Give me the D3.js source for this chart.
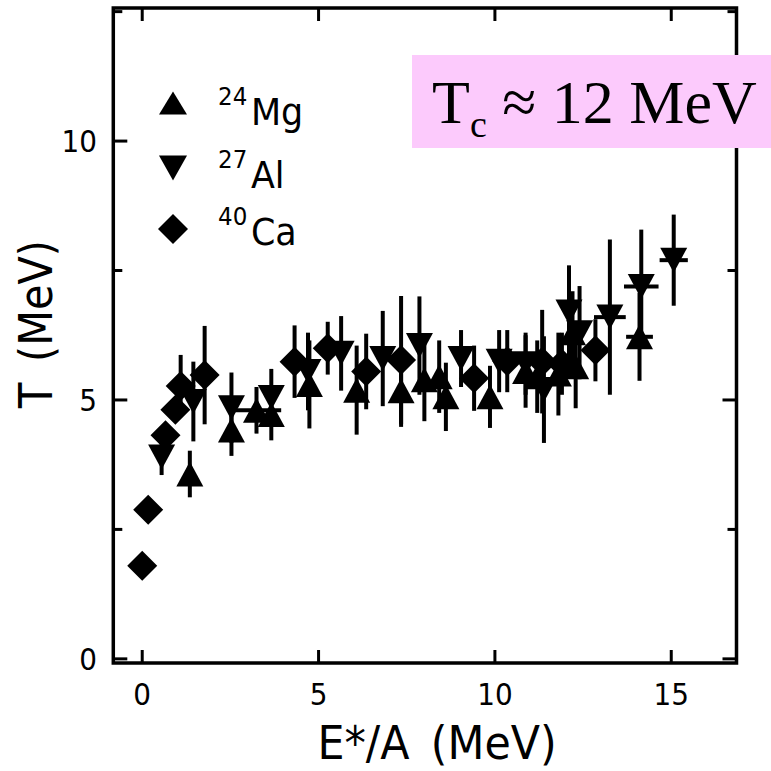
<!DOCTYPE html>
<html><head><meta charset="utf-8">
<script src="https://cdn.jsdelivr.net/npm/d3@7"></script>
<style>html,body{margin:0;padding:0;background:#fff;}svg{display:block;}</style>
</head><body>
<script>
// ---------- data ----------
const mgX   = [1.35, 2.53, 3.24, 3.66, 4.74, 6.08, 7.34, 8.0, 8.42, 8.61, 9.86, 10.87, 11.2, 11.8, 12.29, 12.2, 14.1];
const mgY   = [3.57, 4.42, 4.8, 4.72, 5.3, 5.19, 5.18, 5.39, 5.45, 5.06, 5.06, 5.55, 5.45, 5.5, 5.64, 6.3, 6.22];
const mgErr = [0.45, 0.5, 0.45, 0.5, 0.85, 0.86, 0.7, 0.8, 0.7, 0.66, 0.6, 0.7, 0.7, 0.8, 0.8, 0.8, 0.85];
const mgXErr= [0, 0, 0.7, 0, 0, 0, 0, 0, 0, 0, 0, 0, 0, 0, 0, 0, 0.38];

const alX   = [0.55, 1.45, 2.53, 3.66, 4.7, 5.64, 6.82, 7.86, 9.04, 10.12, 10.87, 11.39, 12.1, 12.4, 13.26, 14.15, 15.07];
const alY   = [3.9, 4.97, 4.85, 5.05, 5.55, 5.9, 5.8, 6.05, 5.8, 5.75, 5.7, 5.2, 6.7, 6.3, 6.6, 7.19, 7.7];
const alErr = [0.35, 0.77, 0.68, 0.55, 0.75, 0.72, 0.92, 0.95, 0.55, 0.6, 0.6, 1.03, 0.9, 0.9, 1.5, 1.1, 0.88];
const alXErr= [0, 0, 0, 0, 0, 0, 0, 0, 0, 0, 0, 0, 0, 0, 0.45, 0.49, 0.4];

const caX   = [0.0, 0.17, 0.66, 0.94, 1.09, 1.77, 4.32, 5.26, 6.35, 7.34, 9.41, 10.35, 11.34, 11.9, 12.85];
const caY   = [1.80, 2.88, 4.32, 4.81, 5.27, 5.48, 5.74, 6.0, 5.55, 5.77, 5.42, 5.75, 5.74, 5.7, 5.96];
const caErr = [0, 0, 0, 0, 0.6, 0.95, 0.7, 0.51, 0.73, 1.24, 0.63, 0.6, 1.0, 0.6, 0.6];

const xTicks = [0, 5, 10, 15];
const yTicks = [0, 2.5, 5, 7.5, 10, 12.5];
const yLabels = [0, 5, 10];
const legendNames = [["24","Mg"],["27","Al"],["40","Ca"]];

// ---------- layout ----------
const W = 771, H = 771;
const svg = d3.select("body").append("svg").attr("width", W).attr("height", H);
const x = d3.scaleLinear().domain([-0.82, 16.85]).range([113.3, 736.5]);
const y = d3.scaleLinear().domain([-0.08, 12.57]).range([663, 8]);

const SANS = "'DejaVu Sans', sans-serif";
function ctext(parent, tf, size, anchor, sx) {
  return parent.append("text")
    .attr("transform", `${tf} scale(${sx},1)`)
    .attr("text-anchor", anchor)
    .attr("font-family", SANS)
    .attr("font-size", size).attr("fill", "#000");
}

// marker paths
const upTri = (w,h) => `M0,${-h/2}L${w/2},${h/2}L${-w/2},${h/2}Z`;
const dnTri = (w,h) => `M0,${h/2}L${w/2},${-h/2}L${-w/2},${-h/2}Z`;
const diamond = (r) => `M0,${-r}L${r},0L0,${r}L${-r},0Z`;

// data layer
const plot = svg.append("g");
function drawSeries(xs, ys, errs, xerrs, path) {
  const g = plot.append("g");
  xs.forEach((xv, i) => {
    if (errs[i] > 0) {
      g.append("line").attr("x1", x(xv)).attr("x2", x(xv))
        .attr("y1", y(ys[i]-errs[i])).attr("y2", y(ys[i]+errs[i]))
        .attr("stroke", "#000").attr("stroke-width", 4);
    }
    if (xerrs && xerrs[i] > 0) {
      g.append("line").attr("x1", x(xv-xerrs[i])).attr("x2", x(xv+xerrs[i]))
        .attr("y1", y(ys[i])).attr("y2", y(ys[i]))
        .attr("stroke", "#000").attr("stroke-width", 4);
    }
    g.append("path").attr("d", path).attr("transform", `translate(${x(xv)},${y(ys[i])})`).attr("fill", "#000");
  });
}
drawSeries(mgX, mgY, mgErr, mgXErr, upTri(27,25));
drawSeries(alX, alY, alErr, alXErr, dnTri(27,25));
drawSeries(caX, caY, caErr, null, diamond(15));

// frame and ticks
const frame = svg.append("g").attr("stroke", "#000").attr("fill", "none");
frame.append("rect").attr("x", x.range()[0]).attr("y", y.range()[1])
  .attr("width", x.range()[1]-x.range()[0]).attr("height", y.range()[0]-y.range()[1])
  .attr("stroke-width", 3.5);
xTicks.forEach(t => {
  frame.append("line").attr("x1", x(t)).attr("x2", x(t)).attr("y1", y.range()[0]).attr("y2", y.range()[0]-13).attr("stroke-width", 3);
  frame.append("line").attr("x1", x(t)).attr("x2", x(t)).attr("y1", y.range()[1]).attr("y2", y.range()[1]+13).attr("stroke-width", 3);
});
yTicks.forEach(t => {
  const len = (t % 5 === 0) ? 14 : 9;
  frame.append("line").attr("x1", x.range()[0]).attr("x2", x.range()[0]+len).attr("y1", y(t)).attr("y2", y(t)).attr("stroke-width", 3);
  frame.append("line").attr("x1", x.range()[1]).attr("x2", x.range()[1]-len).attr("y1", y(t)).attr("y2", y(t)).attr("stroke-width", 3);
});

// pink box (drawn over the frame)
svg.append("rect").attr("x", 412).attr("y", 55).attr("width", W-412).attr("height", 93).attr("fill", "#fccafc");
const tc = svg.append("text").attr("x", 432).attr("y", 123)
  .attr("font-family", "'Liberation Serif', 'Times New Roman', serif")
  .attr("font-size", 62).attr("fill", "#000");
tc.append("tspan").text("T");
tc.append("tspan").text("c").attr("font-size", 38).attr("dy", 14);
tc.append("tspan").text(" \u2248 12 MeV").attr("dy", -14);

// tick labels
xTicks.forEach(t => ctext(svg, `translate(${x(t)},705)`, 30, "middle", 0.93).text(String(t)));
yLabels.forEach(t => ctext(svg, `translate(97,${y(t)+11})`, 30, "end", 0.93).text(String(t)));

// axis titles
ctext(svg, "translate(437,759)", 47, "middle", 0.91).text("E*/A\u2002(MeV)");
ctext(svg, "translate(52,324) rotate(-90)", 46, "middle", 0.9).text("T\u2002(MeV)");

// legend
const legY = [103, 168, 229];
const legBase = [125, 188, 245];
const legPaths = [upTri(28,23), dnTri(28,25), diamond(15)];
legendNames.forEach((n, i) => {
  svg.append("path").attr("d", legPaths[i]).attr("transform", `translate(173,${legY[i]})`).attr("fill", "#000");
  const t = ctext(svg, `translate(218,${legBase[i]})`, 38, "start", 0.92);
  t.append("tspan").text(n[0]).attr("font-size", 25).attr("dy", -20);
  t.append("tspan").text(n[1]).attr("dy", 20).attr("dx", 4);
});
</script>
</body></html>
